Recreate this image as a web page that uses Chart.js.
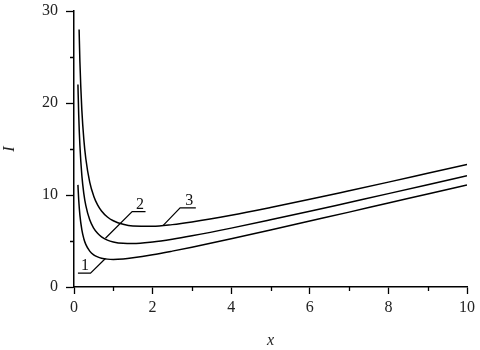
<!DOCTYPE html>
<html>
<head>
<meta charset="utf-8">
<script src="https://cdn.jsdelivr.net/npm/chart.js@4/dist/chart.umd.min.js"></script>
<style>
  html, body { margin: 0; padding: 0; background: #fff; }
  #wrap { width: 480px; height: 350px; }
</style>
</head>
<body>
<div id="wrap"><canvas id="myChart"></canvas></div>
<script>
// values
var xs = [0.1, 0.12, 0.15, 0.2, 0.25, 0.3, 0.4, 0.5, 0.6, 0.7, 0.85, 1, 1.25, 1.5, 2, 2.5, 3, 4, 5, 6, 7, 8, 9, 10];
var curve1 = [11.1, 9.45, 7.82, 6.2, 5.25, 4.63, 3.9, 3.5, 3.27, 3.13, 3.03, 3.0, 3.05, 3.17, 3.5, 3.9, 4.33, 5.25, 6.2, 7.17, 8.14, 9.13, 10.1, 11.1];
var curve2 = [22.0, 18.7, 15.4, 12.1, 10.15, 8.87, 7.3, 6.4, 5.83, 5.46, 5.1, 4.9, 4.75, 4.73, 4.9, 5.2, 5.57, 6.4, 7.3, 8.23, 9.19, 10.15, 11.12, 12.1];
var xs3 = [0.13, 0.15, 0.2, 0.25, 0.3, 0.4, 0.5, 0.6, 0.7, 0.85, 1, 1.25, 1.5, 2, 2.5, 3, 4, 5, 6, 7, 8, 9, 10];
var curve3 = [28.0, 24.5, 19.2, 16.05, 13.97, 11.4, 9.9, 8.93, 8.27, 7.61, 7.2, 6.81, 6.63, 6.6, 6.78, 7.07, 7.8, 8.64, 9.53, 10.46, 11.4, 12.36, 13.32];

// leader lines for the curve numbers
var lead1X = [0.1, 0.42, 0.8];
var lead1Y = [1.5, 1.5, 3.1];
var lead2X = [1.82, 1.48, 0.8];
var lead2Y = [8.2, 8.2, 5.3];
var lead3X = [3.1, 2.7, 2.27];
var lead3Y = [8.6, 8.6, 6.7];
var labelText = ['1', '2', '3'];
var labelX = [0.28, 1.68, 2.93];
var labelY = [1.5, 8.2, 8.6];

var xMajor = [0, 2, 4, 6, 8, 10];
var xMinor = [1, 3, 5, 7, 9];
var yMajor = [0, 10, 20, 30];
var yMinor = [5, 15, 25];

function pts(xa, ya) {
  var out = [];
  for (var i = 0; i < xa.length; i++) out.push({ x: xa[i], y: ya[i] });
  return out;
}

function curve(xa, ya) {
  return {
    data: pts(xa, ya),
    borderColor: '#000',
    borderWidth: 1.5,
    pointRadius: 0,
    fill: false,
    cubicInterpolationMode: 'monotone'
  };
}

function leader(xa, ya) {
  return {
    data: pts(xa, ya),
    borderColor: '#000',
    borderWidth: 1.2,
    pointRadius: 0,
    fill: false,
    tension: 0
  };
}

var serif = "'Liberation Serif', 'DejaVu Serif', serif";

// short minor ticks and the curve numbers
var extras = {
  id: 'extras',
  afterDraw: function(chart) {
    var ctx = chart.ctx;
    var xs_ = chart.scales.x, ys_ = chart.scales.y;
    var area = chart.chartArea;
    ctx.save();
    ctx.strokeStyle = '#000';
    ctx.lineWidth = 1.3;
    ctx.beginPath();
    xMinor.forEach(function(v) {
      var p = Math.round(xs_.getPixelForValue(v)) + 0.5;
      ctx.moveTo(p, area.bottom);
      ctx.lineTo(p, area.bottom + 4);
    });
    yMinor.forEach(function(v) {
      var p = Math.round(ys_.getPixelForValue(v)) + 0.5;
      ctx.moveTo(area.left, p);
      ctx.lineTo(area.left - 4, p);
    });
    ctx.stroke();
    ctx.fillStyle = '#111';
    ctx.font = '16px ' + serif;
    ctx.textAlign = 'center';
    ctx.textBaseline = 'bottom';
    for (var i = 0; i < labelText.length; i++) {
      ctx.fillText(labelText[i], xs_.getPixelForValue(labelX[i]), ys_.getPixelForValue(labelY[i]) + 1);
    }
    ctx.restore();
  }
};

var config = {
  type: 'line',
  data: {
    datasets: [
      curve(xs, curve1),
      curve(xs, curve2),
      curve(xs3, curve3),
      leader(lead1X, lead1Y),
      leader(lead2X, lead2Y),
      leader(lead3X, lead3Y)
    ]
  },
  options: {
    responsive: true,
    maintainAspectRatio: false,
    animation: false,
    layout: { padding: { top: 11, right: 13, left: 0, bottom: 0 } },
    plugins: { legend: { display: false }, tooltip: { enabled: false } },
    scales: {
      x: {
        type: 'linear',
        min: 0,
        max: 10,
        afterBuildTicks: function(s) { s.ticks = xMajor.map(function(v) { return { value: v }; }); },
        afterFit: function(s) { s.height = 63; s.paddingLeft = 0; s.paddingRight = 0; },
        grid: { drawOnChartArea: false, tickLength: 7, tickColor: '#000', tickWidth: 1.3 },
        border: { display: true, color: '#000', width: 1.5 },
        ticks: { color: '#222', font: { family: serif, size: 16 }, padding: 4, maxRotation: 0 },
        title: { display: true, text: 'x', color: '#222', font: { family: serif, size: 16, style: 'italic' }, padding: { top: 0, bottom: 0 } }
      },
      y: {
        type: 'linear',
        min: 0,
        max: 30,
        afterBuildTicks: function(s) { s.ticks = yMajor.map(function(v) { return { value: v }; }); },
        afterFit: function(s) { s.width = 74; s.paddingTop = 0; s.paddingBottom = 0; },
        grid: { drawOnChartArea: false, tickLength: 8, tickColor: '#000', tickWidth: 1.3 },
        border: { display: true, color: '#000', width: 1.5 },
        ticks: { color: '#222', font: { family: serif, size: 16 }, padding: 8 },
        title: { display: true, text: 'I', color: '#222', font: { family: serif, size: 16, style: 'italic' }, padding: { top: 0, bottom: 0 } }
      }
    }
  },
  plugins: [extras]
};

var myChart = new Chart(document.getElementById('myChart'), config);
</script>
</body>
</html>
